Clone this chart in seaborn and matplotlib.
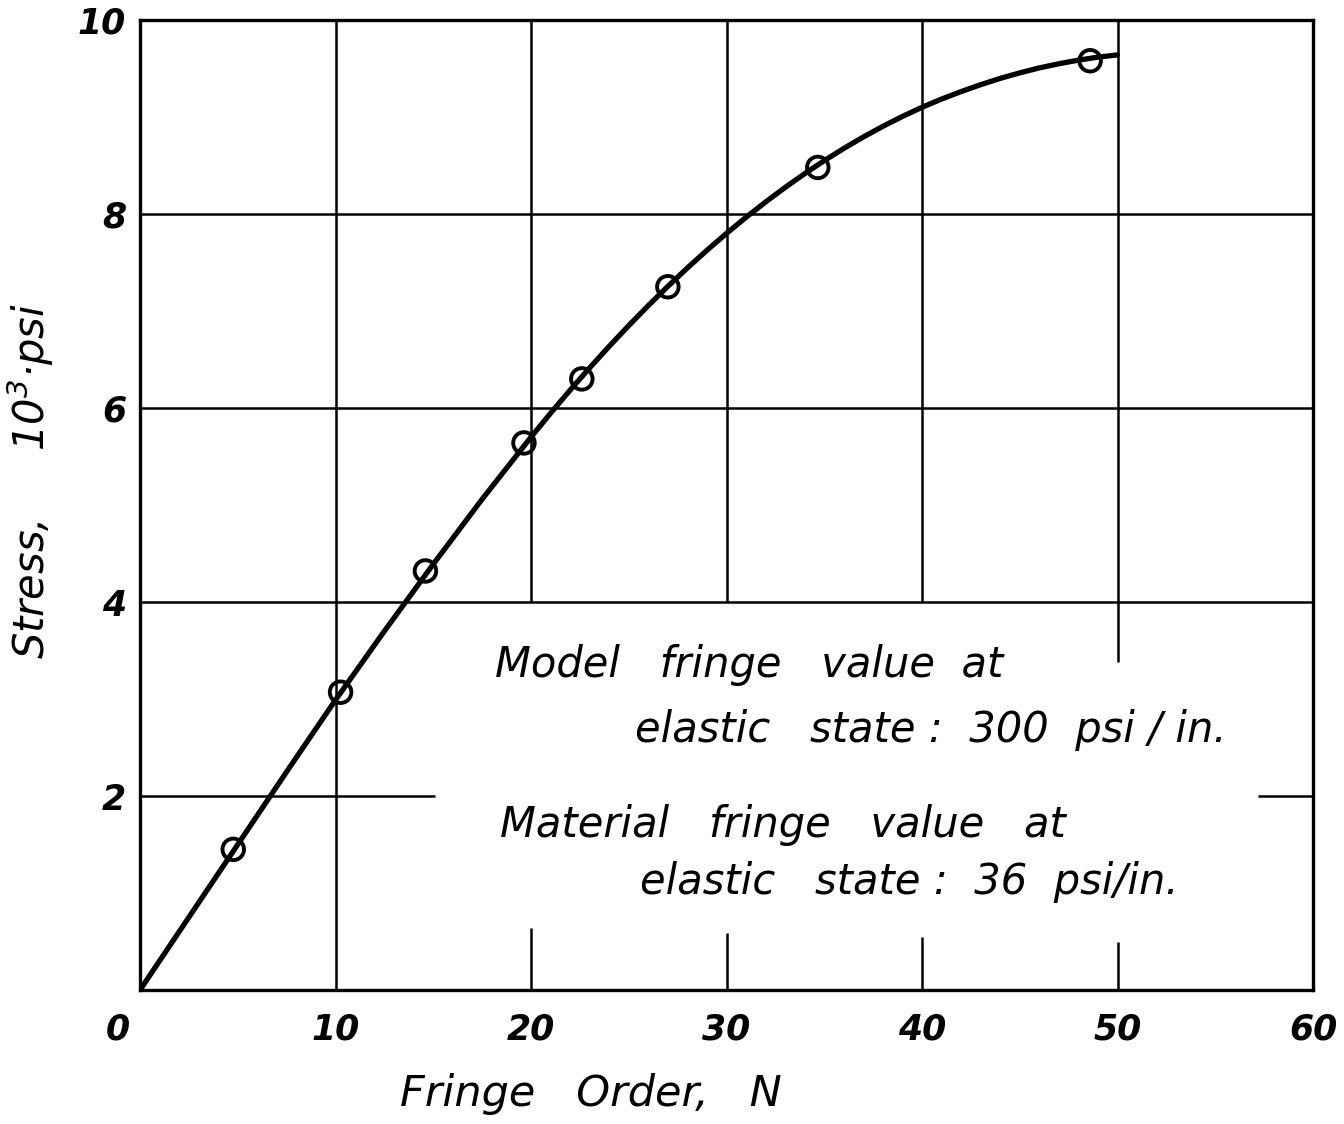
import matplotlib
matplotlib.use("Agg")
import matplotlib.pyplot as plt
import matplotlib.transforms as mtrans
import seaborn as sns
import pandas as pd

# ---- data ----
point_n = [4.77, 10.26, 14.6, 19.64, 22.6, 27.0, 34.67, 48.6]
point_stress = [1.45, 3.07, 4.32, 5.64, 6.30, 7.25, 8.48, 9.58]

# drawn (faired) curve
curve_n = [0, 2.5, 5, 7.5, 10, 12.5, 15, 17.5, 20,
           21, 22, 23, 24, 25, 26, 27, 28, 29, 30,
           31, 32, 33, 34, 35, 36, 37, 38, 39, 40,
           41, 42, 43, 44, 45, 46, 47, 48, 49, 50]
curve_stress = [0.0, 0.75, 1.50, 2.25, 2.99, 3.70, 4.39, 5.06, 5.70,
                5.946, 6.184, 6.414, 6.636, 6.850, 7.056, 7.254, 7.444, 7.626, 7.800,
                7.966, 8.124, 8.274, 8.416, 8.550, 8.676, 8.794, 8.904, 9.006, 9.100,
                9.185, 9.262, 9.333, 9.398, 9.455, 9.506, 9.549, 9.586, 9.617, 9.640]

x_ticks = [0, 10, 20, 30, 40, 50, 60]
x_tick_labels = ["0", "10", "20", "30", "40", "50", "60"]
y_ticks = [2, 4, 6, 8, 10]
y_tick_labels = ["2", "4", "6", "8", "10"]

note_lines = ["Model   fringe   value  at",
              "elastic   state :  300  psi / in.",
              "Material   fringe   value   at",
              "elastic   state :  36  psi/in."]

x_label = "Fringe   Order,   N"
y_label = "Stress,     10$^3$·psi"

# ---- styling ----
sns.set_style("white")
plt.rcParams["font.family"] = ["DejaVu Sans"]
plt.rcParams["font.style"] = "italic"
plt.rcParams["text.color"] = "black"
plt.rcParams["axes.labelcolor"] = "black"
plt.rcParams["xtick.color"] = "black"
plt.rcParams["ytick.color"] = "black"

points_df = pd.DataFrame({"N": point_n, "Stress": point_stress})
curve_df = pd.DataFrame({"N": curve_n, "Stress": curve_stress})

fig = plt.figure(figsize=(13.44, 11.24), dpi=100)
ax = fig.add_axes([140 / 1344, 1 - 990 / 1124, 1173 / 1344, 970 / 1124])

ax.set_xlim(0, 60)
ax.set_ylim(0, 10)

# grid segments (broken around the note text, as in the original)
gcol = "black"
glw = 1.8
ax.vlines(10, 0, 10, color=gcol, lw=glw, zorder=1)
for xv in (20, 30, 40):
    ax.vlines(xv, 4, 10, color=gcol, lw=glw, zorder=1)
ax.vlines(50, 3.38, 10, color=gcol, lw=glw, zorder=1)
ax.vlines(20, 0, 0.64, color=gcol, lw=glw, zorder=1)
ax.vlines(30, 0, 0.59, color=gcol, lw=glw, zorder=1)
ax.vlines(40, 0, 0.55, color=gcol, lw=glw, zorder=1)
ax.vlines(50, 0, 0.49, color=gcol, lw=glw, zorder=1)
for yv in (4, 6, 8):
    ax.hlines(yv, 0, 60, color=gcol, lw=glw, zorder=1)
ax.hlines(2, 0, 15.1, color=gcol, lw=glw, zorder=1)
ax.hlines(2, 57.2, 60, color=gcol, lw=glw, zorder=1)

sns.lineplot(data=curve_df, x="N", y="Stress", ax=ax, color="black",
             lw=3.8, zorder=3, sort=True, estimator=None,
             solid_joinstyle="round", solid_capstyle="round")
sns.scatterplot(data=points_df, x="N", y="Stress", ax=ax, s=240,
                facecolor="none", edgecolor="black", linewidth=2.8,
                zorder=4, marker="o")

for sp in ax.spines.values():
    sp.set_color("black")
    sp.set_linewidth(2.4)

ax.set_xticks(x_ticks)
ax.set_xticklabels(x_tick_labels, fontsize=25, style="italic", fontweight="bold")
ax.set_yticks(y_ticks)
ax.set_yticklabels(y_tick_labels, fontsize=25, style="italic", fontweight="bold")
ax.tick_params(axis="both", length=0)
ax.tick_params(axis="x", pad=16)
ax.tick_params(axis="y", pad=10)
lbls = ax.get_xticklabels()
lbls[0].set_horizontalalignment("right")
lbls[0].set_transform(lbls[0].get_transform()
                      + mtrans.ScaledTranslation(-0.10, 0, fig.dpi_scale_trans))
lbls[-1].set_horizontalalignment("center")

ax.set_xlabel(x_label, fontsize=31, style="italic")
ax.set_ylabel(y_label, fontsize=30, style="italic")
ax.xaxis.set_label_coords(0.384, -0.086)
ax.yaxis.set_label_coords(-0.072, 0.525)

note_pos = [(0.303, 0.335), (0.422, 0.268), (0.307, 0.170), (0.426, 0.111)]
for txt, (tx, ty) in zip(note_lines, note_pos):
    ax.text(tx, ty, txt, transform=ax.transAxes, fontsize=30,
            style="italic", ha="left", va="center", zorder=5)

fig.savefig("out.png", dpi=100)
